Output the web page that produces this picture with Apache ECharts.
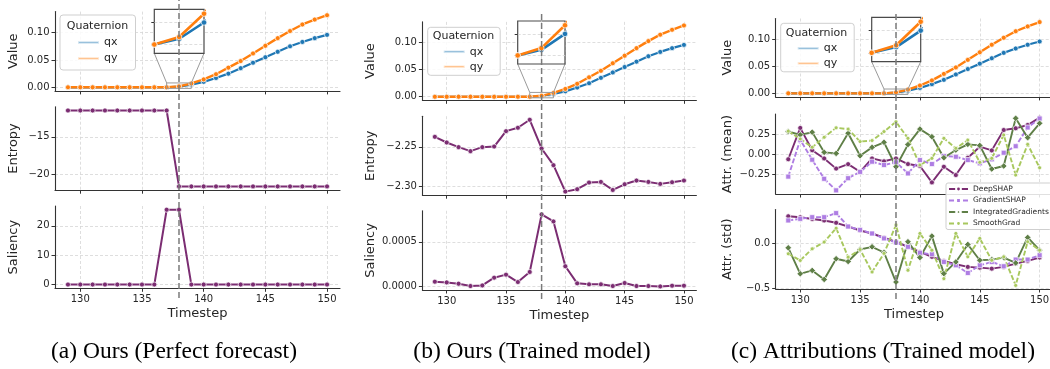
<!DOCTYPE html>
<html>
<head>
<meta charset="utf-8">
<script src="https://cdn.jsdelivr.net/npm/echarts@6/dist/echarts.min.js"></script>
<style>
html, body { margin: 0; padding: 0; background: #fff; }
#chart { width: 1050px; height: 369px; }
</style>
</head>
<body>
<div id="chart"></div>
<script>
// values
var steps = [129, 130, 131, 132, 133, 134, 135, 136, 137, 138, 139, 140, 141, 142, 143, 144, 145, 146, 147, 148, 149, 150];
var cut = 138;

var qx = [0, 0, 0, 0, 0, 0, 0, 0, 0, 0.0013, 0.005, 0.010, 0.017, 0.025, 0.035, 0.045, 0.055, 0.065, 0.075, 0.083, 0.090, 0.096];
var qy = [0, 0, 0, 0, 0, 0, 0, 0, 0, 0.0017, 0.007, 0.0145, 0.024, 0.036, 0.048, 0.062, 0.076, 0.090, 0.103, 0.115, 0.124, 0.132];

var entropyA = [-11.5, -11.5, -11.5, -11.5, -11.5, -11.5, -11.5, -11.5, -11.5, -21.6, -21.6, -21.6, -21.6, -21.6, -21.6, -21.6, -21.6, -21.6, -21.6, -21.6, -21.6, -21.6];
var saliencyA = [0, 0, 0, 0, 0, 0, 0, 0, 25.5, 25.5, 0, 0, 0, 0, 0, 0, 0, 0, 0, 0, 0, 0];

var entropyB = [-2.2373, -2.2445, -2.2504, -2.2555, -2.2504, -2.2496, -2.2301, -2.2258, -2.2157, -2.2521, -2.2733, -2.3068, -2.3038, -2.2953, -2.2945, -2.3047, -2.2975, -2.2928, -2.2945, -2.2970, -2.2949, -2.2928];
var saliencyB = [0.000053, 0.000045, 0.00003, 0.000004, 0.000011, 0.000098, 0.000132, 0.000049, 0.000162, 0.000808, 0.000729, 0.000226, 0.000034, 0.000023, 0.000023, 0.000004, 0.000038, 0.000004, 0.000004, 0.0, 0.000008, 0.000008];

var deepMean = [-0.06, 0.325, 0.05, -0.05, -0.175, -0.12, -0.214, -0.05, -0.085, -0.05, -0.119, -0.143, -0.344, -0.152, -0.254, -0.041, 0.094, 0.049, 0.299, 0.32, 0.361, 0.451];
var gradMean = [-0.273, 0.178, -0.066, -0.30, -0.442, -0.293, -0.215, -0.09, -0.131, -0.098, -0.234, -0.07, -0.119, -0.02, -0.029, -0.07, -0.11, -0.061, 0.02, 0.1, 0.33, 0.44];
var igMean = [0.281, 0.24, 0.273, 0.025, 0.012, 0.26, -0.017, 0.086, 0.148, -0.152, 0.12, 0.31, 0.217, -0.041, 0.053, 0.123, 0.11, -0.18, -0.143, 0.443, 0.205, 0.381];
var smoothMean = [0.285, 0.19, 0.087, 0.21, 0.326, 0.31, 0.157, 0.17, 0.28, 0.40, 0.197, -0.131, -0.049, 0.197, 0.074, 0.176, -0.098, -0.049, 0.238, -0.254, 0.123, -0.164];

var deepStd = [0.30, 0.29, 0.27, 0.254, 0.228, 0.187, 0.143, 0.11, 0.063, 0.018, -0.037, -0.093, -0.148, -0.193, -0.23, -0.259, -0.267, -0.278, -0.259, -0.222, -0.193, -0.156];
var gradStd = [0.254, 0.272, 0.29, 0.29, 0.335, 0.187, 0.15, 0.11, 0.056, 0.011, -0.037, -0.104, -0.119, -0.204, -0.241, -0.326, -0.241, -0.204, -0.252, -0.178, -0.178, -0.13];
var igStd = [-0.048, -0.335, -0.298, -0.397, -0.169, -0.199, -0.067, -0.037, -0.1, -0.426, 0.019, -0.156, 0.081, -0.333, -0.204, -0.011, -0.185, -0.178, -0.156, -0.215, 0.067, -0.074];
var smoothStd = [-0.114, -0.188, -0.059, 0.015, 0.169, -0.151, -0.067, -0.315, -0.11, 0.204, -0.296, 0.111, -0.074, -0.389, 0.111, -0.148, 0.056, -0.185, -0.148, -0.463, 0.019, -0.074];

var xTicks = [130, 135, 140, 145, 150];
var valueTicks = [0, 0.05, 0.10];
var entropyATicks = [-20, -15];
var saliencyATicks = [0, 10, 20];
var entropyBTicks = [-2.30, -2.25];
var saliencyBTicks = [0, 0.0005];
var meanTicks = [-0.25, 0, 0.25];
var stdTicks = [-0.5, 0];
var insetTicks = [0, 0.005];
var insetX = [137, 139];
var insetY = [-0.002, 0.008];

var attrNames = ['DeepSHAP', 'GradientSHAP', 'IntegratedGradients', 'SmoothGrad'];
var captions = ['(a) Ours (Perfect forecast)', '(b) Ours (Trained model)', '(c) Attributions (Trained model)'];

// styles
var font = 'DejaVu Sans';
var ink = '#262626';
var purple = { color: '#7b2d72', symbol: 'circle', size: 5, width: 2 };
var qxStyle = { color: '#1f77b4', symbol: 'circle', size: 5, width: 2.2 };
var qyStyle = { color: '#ff7f0e', symbol: 'circle', size: 5, width: 2.4 };
var attrStyles = [
    { color: '#7b2d72', symbol: 'circle', size: 5, width: 1.9 },
    { color: '#ae7de3', symbol: 'rect', size: 5, width: 1.9, type: [5, 2] },
    { color: '#5f7f47', symbol: 'diamond', size: 6.5, width: 1.9 },
    { color: '#a8c85e', symbol: 'circle', size: 4, width: 1.9, type: [5, 2] }
];

function fmt(d) {
    return function (v) { return v.toFixed(d).replace('-', '\u2212'); };
}

function ext(arrs) {
    var lo = Infinity, hi = -Infinity;
    arrs.forEach(function (a) { a.forEach(function (v) { lo = Math.min(lo, v); hi = Math.max(hi, v); }); });
    var p = (hi - lo) * 0.05;
    return [lo - p, hi + p];
}

var quat = [{ name: 'qx', data: qx, st: qxStyle }, { name: 'qy', data: qy, st: qyStyle }];

var columns = [
    {
        left: 55, width: 285, rows: [[11.6, 79.3], [106.7, 83.5], [206, 82.3]],
        inset: [154.3, 9.3, 49.7, 44], vline: [0, 298], nameGap: 35, cap: 174,
        legend: { left: 60, top: 15, padding: [22, 18, 6, 17], gap: 5 }, qTitle: [97.5, 25.7],
        panels: [
            { name: 'Value', ticks: valueTicks, fmt: fmt(2), lines: quat },
            { name: 'Entropy', ticks: entropyATicks, fmt: fmt(0), lines: [{ name: 'Entropy', data: entropyA, st: purple }] },
            { name: 'Saliency', ticks: saliencyATicks, fmt: fmt(0), lines: [{ name: 'Saliency', data: saliencyA, st: purple }] }
        ]
    },
    {
        left: 422.4, width: 274, rows: [[21.9, 78.4], [116.2, 79], [210.8, 79.2]],
        inset: [517.7, 21, 47.3, 43], vline: [14, 299], nameGap: 45, cap: 532,
        legend: { left: 427.7, top: 27.3, padding: [19, 17, 3, 15], gap: 4 }, qTitle: [463.5, 36],
        panels: [
            { name: 'Value', ticks: valueTicks, fmt: fmt(2), lines: quat },
            { name: 'Entropy', ticks: entropyBTicks, fmt: fmt(2), lines: [{ name: 'Entropy', data: entropyB, st: purple }] },
            { name: 'Saliency', ticks: saliencyBTicks, fmt: fmt(4), lines: [{ name: 'Saliency', data: saliencyB, st: purple }] }
        ]
    },
    {
        left: 775.7, width: 276.5, rows: [[18.5, 78.4], [114, 80], [209.5, 79.5]],
        inset: [871.7, 17.3, 49, 44.4], vline: [11, 299], nameGap: 42, cap: 883,
        legend: { left: 780.7, top: 23.3, padding: [19.5, 17, 3, 16], gap: 4 }, qTitle: [816.5, 32.7],
        panels: [
            { name: 'Value', ticks: valueTicks, fmt: fmt(2), lines: quat },
            { name: 'Attr. (mean)', ticks: meanTicks, fmt: fmt(2), lines: [
                { name: attrNames[0], data: deepMean, st: attrStyles[0] },
                { name: attrNames[1], data: gradMean, st: attrStyles[1] },
                { name: attrNames[2], data: igMean, st: attrStyles[2] },
                { name: attrNames[3], data: smoothMean, st: attrStyles[3] }] },
            { name: 'Attr. (std)', ticks: stdTicks, fmt: fmt(1), lines: [
                { name: attrNames[0], data: deepStd, st: attrStyles[0] },
                { name: attrNames[1], data: gradStd, st: attrStyles[1] },
                { name: attrNames[2], data: igStd, st: attrStyles[2] },
                { name: attrNames[3], data: smoothStd, st: attrStyles[3] }] }
        ]
    }
];

var xRange = [steps[0] - 1.05, steps[steps.length - 1] + 1.05];
var grids = [], xAxes = [], yAxes = [], series = [], legends = [];
var topGrid = [], insetGrid = [];

function addGrid(g) {
    grids.push(Object.assign({ show: false, containLabel: false, outerBoundsMode: 'none' }, g));
    return grids.length - 1;
}

function valueAxis(gi, range, ticks, showLabel, fmtFn, z) {
    return {
        type: 'value', gridIndex: gi, min: range[0], max: range[1], z: z || 0,
        nameMoveOverlap: false,
        axisLine: { show: true, onZero: false, lineStyle: { color: '#333', width: 1.1 } },
        axisTick: { show: true, inside: false, length: 3.5, customValues: ticks, lineStyle: { color: '#333', width: 1 } },
        axisLabel: { show: showLabel, customValues: ticks, formatter: fmtFn, fontSize: 10, color: ink, fontFamily: font, margin: 6 },
        splitLine: { show: true, lineStyle: { color: '#d6d6d6', width: 0.8, type: [3, 2] } }
    };
}

function lineSeries(name, gi, arr, st, z, width, size) {
    return {
        type: 'line', name: name, xAxisIndex: gi, yAxisIndex: gi,
        data: steps.map(function (s, i) { return [s, arr[i]]; }),
        symbol: st.symbol, symbolSize: size || st.size, showSymbol: true, showAllSymbol: true,
        itemStyle: { color: st.color, borderColor: '#fff', borderWidth: 0.7 },
        lineStyle: { color: st.color, width: width || st.width, type: st.type || 'solid' },
        emphasis: { disabled: true }, z: z || 2, animation: false, clip: true
    };
}

columns.forEach(function (col, ci) {
    col.panels.forEach(function (p, ri) {
        var gi = addGrid({ left: col.left, top: col.rows[ri][0], width: col.width, height: col.rows[ri][1] });
        if (ri === 0) topGrid.push(gi);
        var bottom = ri === 2;
        var xa = valueAxis(gi, xRange, xTicks, bottom, fmt(0));
        if (bottom) {
            xa.name = 'Timestep'; xa.nameLocation = 'middle'; xa.nameGap = 19;
            xa.nameTextStyle = { fontSize: 13, color: ink, fontFamily: font };
        }
        xAxes.push(xa);
        var ya = valueAxis(gi, ext(p.lines.map(function (l) { return l.data; })), p.ticks, true, p.fmt);
        ya.axisLabel.margin = 5.5;
        ya.name = p.name; ya.nameLocation = 'middle'; ya.nameGap = col.nameGap;
        ya.nameTextStyle = { fontSize: 13, color: ink, fontFamily: font };
        yAxes.push(ya);
        p.lines.forEach(function (l) { series.push(lineSeries(l.name, gi, l.data, l.st)); });
        if (ri === 0) {
            // box showing the zoomed window
            series.push({
                type: 'line', name: 'window', xAxisIndex: gi, yAxisIndex: gi, symbol: 'none',
                data: [[insetX[0], insetY[0]], [insetX[1], insetY[0]], [insetX[1], insetY[1]], [insetX[0], insetY[1]], [insetX[0], insetY[0]]],
                lineStyle: { color: '#9a9a9a', width: 1 }, z: 3, animation: false, silent: true
            });
        }
    });

    // inset
    var ig = addGrid({
        left: col.inset[0], top: col.inset[1], width: col.inset[2], height: col.inset[3],
        show: true, backgroundColor: '#fff', borderColor: '#4a4a4a', borderWidth: 1.2, z: 10
    });
    insetGrid.push(ig);
    var ixa = valueAxis(ig, insetX, [cut], false, fmt(0), 11);
    ixa.axisLine.show = false; ixa.axisTick.show = false;
    xAxes.push(ixa);
    var iya = valueAxis(ig, insetY, insetTicks, false, fmt(3), 11);
    iya.axisLine.show = false; iya.axisTick.length = 3;
    yAxes.push(iya);
    quat.forEach(function (l) { series.push(lineSeries(l.name, ig, l.data, l.st, 12, 2.6, 5.5)); });

    // vertical marker at the cut time, across the column
    var og = addGrid({ left: col.left, top: col.vline[0], width: col.width, height: col.vline[1] - col.vline[0] });
    xAxes.push({ type: 'value', gridIndex: og, min: xRange[0], max: xRange[1], show: false });
    yAxes.push({ type: 'value', gridIndex: og, min: 0, max: 1, show: false });
    series.push({
        type: 'line', name: 'cut', xAxisIndex: og, yAxisIndex: og, symbol: 'none',
        data: [[cut, 0], [cut, 1]], lineStyle: { color: '#7a7a7a', width: 1.5, type: [6, 3] },
        z: 20, animation: false, silent: true
    });

    legends.push({
        orient: 'vertical', left: col.legend.left, top: col.legend.top, padding: col.legend.padding,
        itemWidth: 21, itemHeight: 2.5, icon: 'rect', itemGap: col.legend.gap, selectedMode: false,
        data: ['qx', 'qy'], itemStyle: { opacity: 0.7 },
        textStyle: { fontSize: 11, color: ink, fontFamily: font },
        backgroundColor: 'rgba(255,255,255,0.85)', borderColor: '#cfcfcf', borderWidth: 1, borderRadius: 3
    });
});

legends.push({
    orient: 'vertical', left: 946, top: 183, padding: [2, 3, 2, 2],
    itemWidth: 19, itemHeight: 6, itemGap: 3.5, selectedMode: false, data: attrNames,
    textStyle: { fontSize: 7.5, color: ink, fontFamily: font },
    backgroundColor: 'rgba(255,255,255,0.85)', borderColor: '#cfcfcf', borderWidth: 1, borderRadius: 2
});

var chart = echarts.init(document.getElementById('chart'));
chart.setOption({
    animation: false,
    backgroundColor: '#fff',
    grid: grids,
    xAxis: xAxes,
    yAxis: yAxes,
    legend: legends,
    series: series
});

// connectors from the inset to its window, plus the texts
var graphics = [];
columns.forEach(function (col, ci) {
    [0, 1].forEach(function (k) {
        var a = chart.convertToPixel({ gridIndex: insetGrid[ci] }, [insetX[k], insetY[0]]);
        var b = chart.convertToPixel({ gridIndex: topGrid[ci] }, [insetX[k], insetY[1]]);
        graphics.push({
            type: 'line', silent: true, z: 9,
            shape: { x1: a[0], y1: a[1], x2: b[0], y2: b[1] },
            style: { stroke: '#9a9a9a', lineWidth: 1 }
        });
    });
    graphics.push({
        type: 'text', silent: true, z: 100, x: col.qTitle[0], y: col.qTitle[1],
        style: { text: 'Quaternion', align: 'center', verticalAlign: 'middle', fontSize: 11, fontFamily: font, fill: ink }
    });
    graphics.push({
        type: 'text', silent: true, z: 100, x: col.cap, y: 352,
        style: { text: captions[ci], align: 'center', verticalAlign: 'middle', fontSize: 23.5, fontFamily: 'Liberation Serif', fill: '#000' }
    });
});
chart.setOption({ graphic: graphics });
</script>
</body>
</html>
